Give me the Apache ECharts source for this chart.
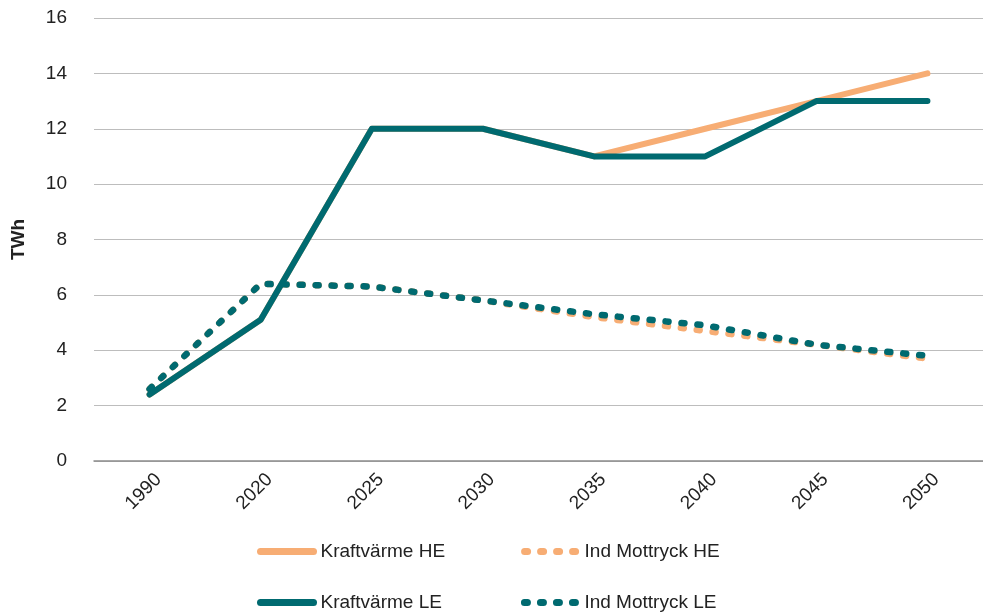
<!DOCTYPE html>
<html lang="sv">
<head>
    <meta charset="UTF-8">
    <title>Kraftvärme och industriellt mottryck</title>
    <script type="text/javascript" src="https://cdn.jsdelivr.net/npm/echarts@6/dist/echarts.min.js"></script>
    <style>
        html, body { margin: 0; padding: 0; background: #fff; }
    </style>
</head>
<body>
<div id="main" style="width: 983px; height: 613px;"></div>
<script type="text/javascript">
    var years = ['1990', '2020', '2025', '2030', '2035', '2040', '2045', '2050'];
    var yTicks = [0, 2, 4, 6, 8, 10, 12, 14, 16];

    var kraftvarmeHE = [2.4, 5.1, 12, 12, 11, 12, 13, 14];
    var mottryckHE = [2.6, 6.4, 6.3, 5.8, 5.2, 4.7, 4.2, 3.7];
    var kraftvarmeLE = [2.4, 5.1, 12, 12, 11, 11, 13, 13];
    var mottryckLE = [2.6, 6.4, 6.3, 5.8, 5.3, 4.9, 4.2, 3.8];

    var orange = '#f7ad74';
    var teal = '#006a70';
    var font = 'Liberation Sans';

    function solid(name, data, color) {
        return {
            name: name,
            type: 'line',
            data: data,
            symbol: 'none',
            lineStyle: { color: color, width: 6, cap: 'round', join: 'round' },
            itemStyle: { color: color }
        };
    }

    function dotted(name, data, color) {
        return {
            name: name,
            type: 'line',
            data: data,
            symbol: 'none',
            lineStyle: { color: color, width: 6.5, type: [3, 13], cap: 'round', join: 'round' },
            itemStyle: { color: color }
        };
    }

    // legend entries: line only, no symbol
    function legendItem(name) {
        return { name: name, itemStyle: { opacity: 0 } };
    }

    var myChart = echarts.init(document.getElementById('main'));
    var legendText = { fontFamily: font, fontSize: 19, color: '#222', padding: [0, 0, 0, 2] };
    var legendBase = {
        itemWidth: 53, itemHeight: 14,
        textStyle: legendText,
        lineStyle: { width: 7, cap: 'round' }
    };
    var option = {
        animation: false,
        textStyle: { fontFamily: font },
        grid: { left: 94, top: 18, width: 897, height: 443 },
        legend: [
            Object.assign({
                data: [legendItem('Kraftvärme HE'), legendItem('Ind Mottryck HE')],
                left: 252, top: 537,
                itemGap: 76
            }, legendBase),
            Object.assign({
                data: [legendItem('Kraftvärme LE'), legendItem('Ind Mottryck LE')],
                left: 252, top: 588,
                itemGap: 79
            }, legendBase)
        ],
        xAxis: {
            type: 'category',
            data: years,
            boundaryGap: true,
            axisLine: { lineStyle: { color: '#8c8c8c', width: 1.5 } },
            axisTick: { show: false },
            axisLabel: {
                rotate: 45, fontSize: 19, color: '#222', margin: 11,
                verticalAlign: 'top', padding: [0, -3, 0, 0], fontFamily: font
            }
        },
        yAxis: {
            type: 'value',
            min: yTicks[0],
            max: yTicks[yTicks.length - 1],
            interval: 2,
            name: 'TWh',
            nameLocation: 'middle',
            nameGap: 66,
            nameRotate: 90,
            nameTextStyle: { fontSize: 19, fontWeight: 'bold', color: '#222', fontFamily: font },
            axisLine: { show: false },
            axisTick: { show: false },
            axisLabel: { fontSize: 19, color: '#222', margin: 27, fontFamily: font },
            splitLine: { lineStyle: { color: '#bdbdbd', width: 1.2 } }
        },
        series: [
            solid('Kraftvärme HE', kraftvarmeHE, orange),
            dotted('Ind Mottryck HE', mottryckHE, orange),
            solid('Kraftvärme LE', kraftvarmeLE, teal),
            dotted('Ind Mottryck LE', mottryckLE, teal)
        ]
    };
    myChart.setOption(option);
</script>
</body>
</html>
